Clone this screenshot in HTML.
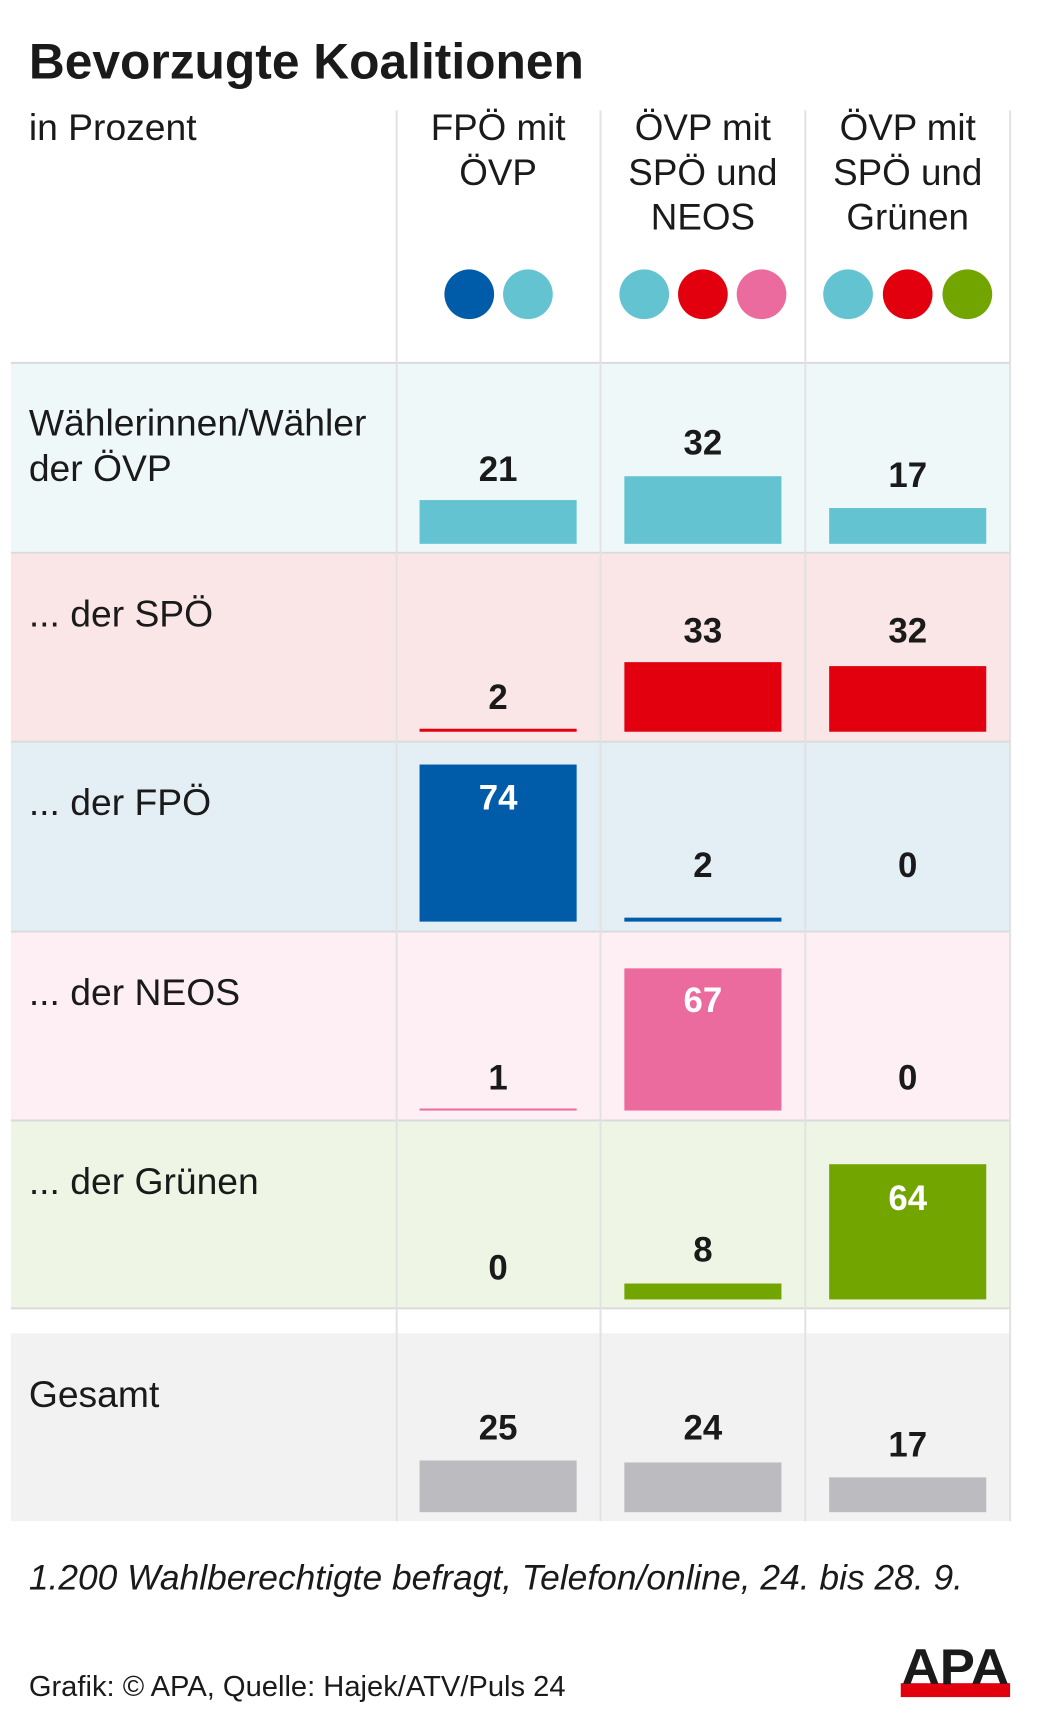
<!DOCTYPE html>
<html><head><meta charset="utf-8"><style>
html,body{margin:0;padding:0;background:#fff}
svg{display:block}
text{font-family:"Liberation Sans",sans-serif;fill:#1a1a1a}
.h{font-size:37px;text-anchor:middle}
.l{font-size:37.5px}
.v{font-size:35px;font-weight:bold;text-anchor:middle}
.w{fill:#fff}
</style></head><body>
<svg width="1041" height="1725" viewBox="0 0 1041 1725" xmlns="http://www.w3.org/2000/svg">
<rect width="1041" height="1725" fill="#fff"/>
<g transform="scale(0.9942)">
<text x="29" y="79" style="font-size:50px;font-weight:bold">Bevorzugte Koalitionen</text>
<rect x="11" y="365" width="1005" height="190" fill="#eef8f9"/>
<rect x="11" y="557" width="1005" height="188" fill="#fae6e6"/>
<rect x="11" y="747" width="1005" height="189" fill="#e3eef5"/>
<rect x="11" y="938" width="1005" height="188" fill="#fdeff3"/>
<rect x="11" y="1128" width="1005" height="188" fill="#eef5e4"/>
<rect x="11" y="1341" width="1005" height="189" fill="#f2f2f2"/>
<g fill="#dadada">
<rect x="11" y="364" width="1005" height="2"/>
<rect x="11" y="555" width="1005" height="2"/>
<rect x="11" y="745" width="1005" height="2"/>
<rect x="11" y="936" width="1005" height="2"/>
<rect x="11" y="1126" width="1005" height="2"/>
<rect x="11" y="1315" width="1005" height="2"/>
</g>
<g fill="#e2e2e2">
<rect x="398" y="111" width="2" height="1419"/>
<rect x="603" y="111" width="2" height="1419"/>
<rect x="809" y="111" width="2" height="1419"/>
<rect x="1015" y="111" width="2" height="1419"/>
</g>
<text x="29" y="141" class="l">in Prozent</text>
<text x="501" y="141" class="h">FPÖ mit</text>
<text x="501" y="186" class="h">ÖVP</text>
<text x="707" y="141" class="h">ÖVP mit</text>
<text x="707" y="186" class="h">SPÖ und</text>
<text x="707" y="231" class="h">NEOS</text>
<text x="913" y="141" class="h">ÖVP mit</text>
<text x="913" y="186" class="h">SPÖ und</text>
<text x="913" y="231" class="h">Grünen</text>
<circle cx="472" cy="296" r="25" fill="#005ca9"/>
<circle cx="531" cy="296" r="25" fill="#63c3d1"/>
<circle cx="648" cy="296" r="25" fill="#63c3d1"/>
<circle cx="707" cy="296" r="25" fill="#e2000f"/>
<circle cx="766" cy="296" r="25" fill="#ec6b9e"/>
<circle cx="853" cy="296" r="25" fill="#63c3d1"/>
<circle cx="913" cy="296" r="25" fill="#e2000f"/>
<circle cx="973" cy="296" r="25" fill="#72a500"/>
<text x="29" y="438" class="l">Wählerinnen/Wähler</text>
<text x="29" y="484" class="l">der ÖVP</text>
<text x="29" y="630" class="l">... der SPÖ</text>
<text x="29" y="820" class="l">... der FPÖ</text>
<text x="29" y="1011" class="l">... der NEOS</text>
<text x="29" y="1201" class="l">... der Grünen</text>
<text x="29" y="1415" class="l">Gesamt</text>
<rect x="422" y="503" width="158" height="44" fill="#63c3d1"/>
<rect x="628" y="479" width="158" height="68" fill="#63c3d1"/>
<rect x="834" y="511" width="158" height="36" fill="#63c3d1"/>
<text x="501" y="484" class="v">21</text>
<text x="707" y="457" class="v">32</text>
<text x="913" y="490" class="v">17</text>
<rect x="422" y="733" width="158" height="3" fill="#e2000f"/>
<rect x="628" y="666" width="158" height="70" fill="#e2000f"/>
<rect x="834" y="670" width="158" height="66" fill="#e2000f"/>
<text x="501" y="713" class="v">2</text>
<text x="707" y="646" class="v">33</text>
<text x="913" y="646" class="v">32</text>
<rect x="422" y="769" width="158" height="158" fill="#005ca9"/>
<rect x="628" y="923" width="158" height="4" fill="#005ca9"/>
<text x="501" y="814" class="v w">74</text>
<text x="707" y="882" class="v">2</text>
<text x="913" y="882" class="v">0</text>
<rect x="422" y="1115" width="158" height="2" fill="#ec6b9e"/>
<rect x="628" y="974" width="158" height="143" fill="#ec6b9e"/>
<text x="501" y="1096" class="v">1</text>
<text x="707" y="1018" class="v w">67</text>
<text x="913" y="1096" class="v">0</text>
<rect x="628" y="1291" width="158" height="16" fill="#72a500"/>
<rect x="834" y="1171" width="158" height="136" fill="#72a500"/>
<text x="501" y="1287" class="v">0</text>
<text x="707" y="1269" class="v">8</text>
<text x="913" y="1217" class="v w">64</text>
<rect x="422" y="1469" width="158" height="52" fill="#bbbbc0"/>
<rect x="628" y="1471" width="158" height="50" fill="#bbbbc0"/>
<rect x="834" y="1486" width="158" height="35" fill="#bbbbc0"/>
<text x="501" y="1448" class="v">25</text>
<text x="707" y="1448" class="v">24</text>
<text x="913" y="1465" class="v">17</text>
<text x="29" y="1599" style="font-size:35.6px;font-style:italic">1.200 Wahlberechtigte befragt, Telefon/online, 24. bis 28. 9.</text>
<text x="29" y="1706" style="font-size:29.3px">Grafik: © APA, Quelle: Hajek/ATV/Puls 24</text>
<rect x="906" y="1693" width="110" height="14" fill="#e2000f"/>
<text x="961" y="1694" style="font-size:50px;font-weight:bold;text-anchor:middle;fill:#1a1a1a" textLength="108" lengthAdjust="spacingAndGlyphs">APA</text>
</g>
</svg>
</body></html>
